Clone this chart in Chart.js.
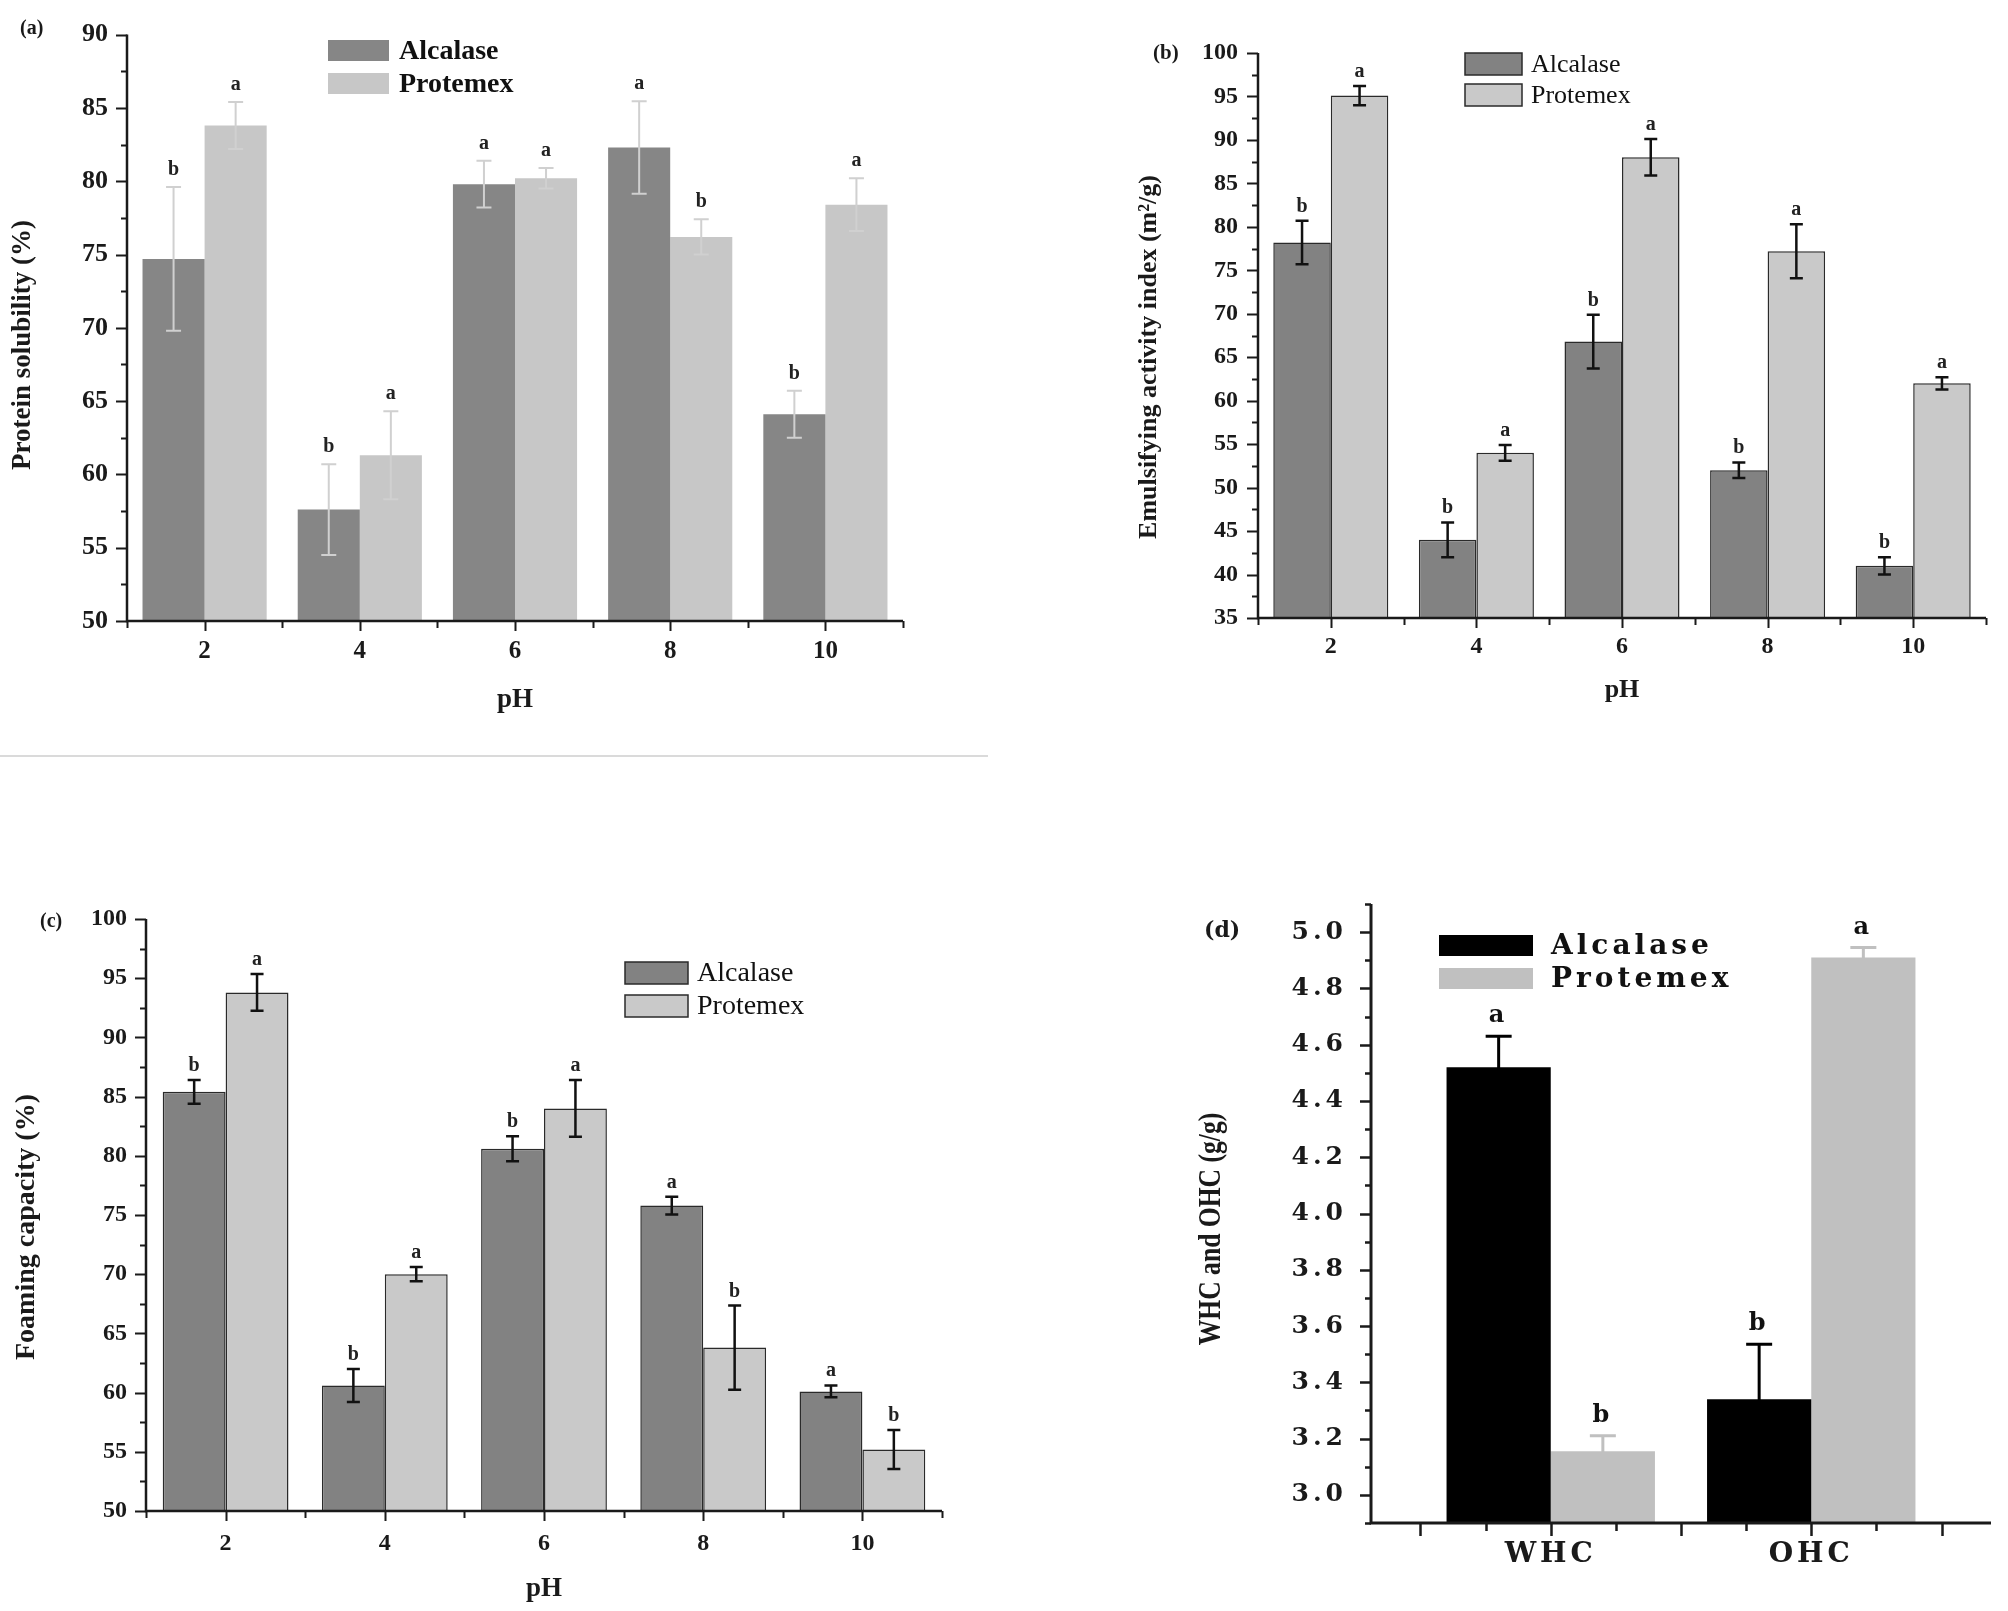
<!DOCTYPE html>
<html>
<head>
<meta charset="utf-8">
<title>Hydrolysate functional properties</title>
<script src="https://cdn.jsdelivr.net/npm/chart.js@4.4.0/dist/chart.umd.min.js"></script>
<style>
  html, body { margin: 0; padding: 0; background: #fff; overflow: hidden; }
  #page { position: relative; width: 2008px; height: 1611px; overflow: hidden; }
  #page canvas { position: absolute; left: 0; top: 0; }
  .tag { position: absolute; line-height: 1; font-family: "Liberation Serif", serif; font-weight: bold; color: #1a1a1a; }
  #rule { position: absolute; left: 0; top: 755px; width: 988px; height: 2px; background: #dadada; }
</style>
</head>
<body>
<div id="page">
  <div id="rule"></div>
  <canvas id="chart-a" width="2008" height="1611"></canvas>
  <canvas id="chart-b" width="2008" height="1611"></canvas>
  <canvas id="chart-c" width="2008" height="1611"></canvas>
  <canvas id="chart-d" width="2008" height="1611"></canvas>
  <div class="tag" style="left:20px;top:17px;font-size:20px">(a)</div>
  <div class="tag" style="left:1153px;top:42px;font-size:21px">(b)</div>
  <div class="tag" style="left:40px;top:910px;font-size:20px">(c)</div>
  <div class="tag" style="left:1204px;top:918px;font-size:22px;font-family:'DejaVu Serif',serif">(d)</div>
</div>
<script>
/***** Data *****/
const phLabels = ["2", "4", "6", "8", "10"];

// (a) Protein solubility (%)
const solAlcalase = [74.7, 57.6, 79.8, 82.3, 64.1];
const solAlcalaseErr = [4.9, 3.1, 1.6, 3.15, 1.6];
const solAlcalaseSig = ["b", "b", "a", "a", "b"];
const solProtemex = [83.8, 61.3, 80.2, 76.2, 78.4];
const solProtemexErr = [1.6, 3.0, 0.7, 1.2, 1.8];
const solProtemexSig = ["a", "a", "a", "b", "a"];
const solTicks = [50, 55, 60, 65, 70, 75, 80, 85, 90];

// (b) Emulsifying activity index (m2/g)
const eaiAlcalase = [78.2, 44.0, 66.8, 52.0, 41.0];
const eaiAlcalaseErr = [2.5, 2.0, 3.1, 0.9, 1.0];
const eaiAlcalaseSig = ["b", "b", "b", "b", "b"];
const eaiProtemex = [95.1, 54.0, 88.0, 77.2, 62.0];
const eaiProtemexErr = [1.1, 0.9, 2.1, 3.1, 0.7];
const eaiProtemexSig = ["a", "a", "a", "a", "a"];
const eaiTicks = [35, 40, 45, 50, 55, 60, 65, 70, 75, 80, 85, 90, 95, 100];

// (c) Foaming capacity (%)
const fcAlcalase = [85.4, 60.6, 80.6, 75.8, 60.1];
const fcAlcalaseErr = [1.0, 1.4, 1.05, 0.75, 0.5];
const fcAlcalaseSig = ["b", "b", "b", "a", "a"];
const fcProtemex = [93.8, 70.0, 84.0, 63.8, 55.2];
const fcProtemexErr = [1.55, 0.6, 2.4, 3.55, 1.65];
const fcProtemexSig = ["a", "a", "a", "b", "b"];
const fcTicks = [50, 55, 60, 65, 70, 75, 80, 85, 90, 95, 100];

// (d) WHC and OHC (g/g)
const capLabels = ["WHC", "OHC"];
const capPositions = [1, 2];
const capAlcalase = [4.52, 3.34];
const capAlcalaseErr = [0.11, 0.195];
const capAlcalaseSig = ["a", "b"];
const capProtemex = [3.155, 4.91];
const capProtemexErr = [0.055, 0.035];
const capProtemexSig = ["b", "a"];
const capTicks = [3.0, 3.2, 3.4, 3.6, 3.8, 4.0, 4.2, 4.4, 4.6, 4.8, 5.0];

/***** Plugins *****/
// Error bars plus the significance letter above each bar
const errorBars = {
  id: "errorBars",
  afterDatasetsDraw(chart, args, opts) {
    const { ctx, scales: { y } } = chart;
    ctx.save();
    chart.data.datasets.forEach((ds, di) => {
      const meta = chart.getDatasetMeta(di);
      meta.data.forEach((bar, i) => {
        const raw = ds.data[i];
        const v = typeof raw === "object" ? raw.y : raw;
        const e = ds.errors[i];
        const top = y.getPixelForValue(v + e);
        const bot = y.getPixelForValue(v - e);
        const half = opts.cap / 2;
        ctx.strokeStyle = ds.errorColor;
        ctx.lineWidth = opts.width;
        ctx.beginPath();
        ctx.moveTo(bar.x, top);
        ctx.lineTo(bar.x, bot);
        ctx.moveTo(bar.x - half, top);
        ctx.lineTo(bar.x + half, top);
        ctx.moveTo(bar.x - half, bot);
        ctx.lineTo(bar.x + half, bot);
        ctx.stroke();
        ctx.fillStyle = opts.letterColor;
        ctx.font = opts.letterFont;
        ctx.textAlign = "center";
        ctx.textBaseline = "alphabetic";
        ctx.fillText(ds.letters[i], bar.x, top - opts.letterGap);
      });
    });
    ctx.restore();
  },
};

// Legend drawn as boxes next to the names, at a fixed place
const boxLegend = {
  id: "boxLegend",
  afterDatasetsDraw(chart, args, opts) {
    const { ctx } = chart;
    ctx.save();
    chart.data.datasets.forEach((ds, i) => {
      const top = opts.y + i * opts.rowGap;
      ctx.fillStyle = ds.backgroundColor;
      ctx.fillRect(opts.x, top, opts.boxW, opts.boxH);
      if (ds.borderWidth) {
        ctx.lineWidth = ds.borderWidth;
        ctx.strokeStyle = ds.borderColor;
        ctx.strokeRect(opts.x, top, opts.boxW, opts.boxH);
      }
      ctx.fillStyle = opts.color;
      ctx.font = opts.font;
      ctx.textAlign = "left";
      ctx.textBaseline = "middle";
      ctx.fillText(ds.label, opts.textX, top + opts.boxH / 2 + 1);
    });
    ctx.restore();
  },
};

// Origin-style axes: left and bottom spines, outward major and minor ticks
const originAxes = {
  id: "originAxes",
  afterDraw(chart, args, opts) {
    const { ctx, chartArea: a, scales: { x, y } } = chart;
    ctx.save();
    ctx.strokeStyle = opts.color;
    ctx.lineWidth = opts.tickWidth;
    ctx.beginPath();
    const majors = y.ticks.map((t) => t.value);
    const n = Math.round((y.max - y.min) / opts.yStep);
    for (let i = 0; i <= n; i++) {
      const v = y.min + i * opts.yStep;
      const isMajor = majors.some((m) => Math.abs(m - v) < 1e-6);
      const py = Math.round(y.getPixelForValue(v)) + 0.5;
      ctx.moveTo(a.left, py);
      ctx.lineTo(a.left - (isMajor ? opts.yMajorLen : opts.yMinorLen), py);
    }
    opts.xMajor.forEach((v) => {
      const px = Math.round(x.getPixelForValue(v)) + 0.5;
      ctx.moveTo(px, a.bottom);
      ctx.lineTo(px, a.bottom + opts.xMajorLen);
    });
    opts.xMinor.forEach((v) => {
      const px = Math.round(x.getPixelForValue(v)) + 0.5;
      ctx.moveTo(px, a.bottom);
      ctx.lineTo(px, a.bottom + opts.xMinorLen);
    });
    ctx.stroke();
    ctx.lineWidth = opts.axisWidth;
    ctx.beginPath();
    ctx.moveTo(a.left, a.top);
    ctx.lineTo(a.left, a.bottom);
    ctx.lineTo(a.right, a.bottom);
    ctx.stroke();
    ctx.restore();
  },
};

// Rotated y-axis title at a fixed centre, optionally squeezed along its length
const sideTitle = {
  id: "sideTitle",
  afterDraw(chart, args, opts) {
    const { ctx } = chart;
    ctx.save();
    ctx.letterSpacing = "0px";
    ctx.translate(opts.x, opts.y);
    ctx.rotate(-Math.PI / 2);
    ctx.scale(opts.squeeze, 1);
    ctx.font = opts.font;
    ctx.fillStyle = "#1a1a1a";
    ctx.textAlign = "center";
    ctx.textBaseline = "middle";
    ctx.fillText(opts.text, 0, 0);
    ctx.restore();
  },
};

// Panel (d): wide lettering for ticks, legend and letters
const wideText = {
  id: "wideText",
  beforeDraw(chart, args, opts) {
    chart.ctx.letterSpacing = opts.spacing;
  },
  afterDraw(chart) {
    chart.ctx.letterSpacing = "0px";
  },
};

/***** Chart builders *****/
const serif = (size, weight) => ({ family: "Liberation Serif", size: size, weight: weight });
const ink = "#1a1a1a";

// Builds one of the three pH panels
const phChart = (canvasId, p) =>
  new Chart(document.getElementById(canvasId), {
    type: "bar",
    data: {
      labels: phLabels,
      datasets: [
        {
          label: "Alcalase",
          data: p.alcalase,
          errors: p.alcalaseErr,
          letters: p.alcalaseSig,
          backgroundColor: p.colors[0],
          borderColor: p.edge,
          borderWidth: p.edgeWidth,
          errorColor: p.errColor,
          categoryPercentage: p.groupWidth,
          barPercentage: 1.0,
        },
        {
          label: "Protemex",
          data: p.protemex,
          errors: p.protemexErr,
          letters: p.protemexSig,
          backgroundColor: p.colors[1],
          borderColor: p.edge,
          borderWidth: p.edgeWidth,
          errorColor: p.errColor,
          categoryPercentage: p.groupWidth,
          barPercentage: 1.0,
        },
      ],
    },
    options: {
      animation: false,
      responsive: false,
      devicePixelRatio: 1,
      layout: { padding: p.padding },
      plugins: {
        legend: { display: false },
        tooltip: { enabled: false },
        errorBars: p.errorBars,
        boxLegend: p.legend,
        sideTitle: p.yTitle,
        originAxes: {
          color: ink,
          tickWidth: 2,
          axisWidth: 2.5,
          yStep: 2.5,
          yMajorLen: 11,
          yMinorLen: 6,
          xMajor: [0, 1, 2, 3, 4],
          xMinor: [-0.5, 0.5, 1.5, 2.5, 3.5, 4.5],
          xMajorLen: 10,
          xMinorLen: 7,
        },
      },
      scales: {
        x: {
          grid: { display: false, drawTicks: false },
          border: { display: false },
          ticks: { padding: p.xTickPad, font: serif(p.xTickSize, "bold"), color: ink, maxRotation: 0, autoSkip: false },
          title: { display: true, text: "pH", font: serif(p.xTitleSize, "bold"), color: ink, padding: 0 },
          afterFit: (scale) => { scale.height = p.xHeight; },
        },
        y: {
          min: p.ticks[0],
          max: p.ticks[p.ticks.length - 1],
          grid: { display: false, drawTicks: false },
          border: { display: false },
          afterBuildTicks: (scale) => { scale.ticks = p.ticks.map((v) => ({ value: v })); },
          ticks: { padding: p.yTickPad, font: serif(p.yTickSize, "bold"), color: ink },
          afterFit: (scale) => { scale.width = p.yWidth; },
        },
      },
    },
    plugins: [errorBars, boxLegend, originAxes, sideTitle],
  });

/***** Panels *****/
// (a) Protein solubility
phChart("chart-a", {
  alcalase: solAlcalase, alcalaseErr: solAlcalaseErr, alcalaseSig: solAlcalaseSig,
  protemex: solProtemex, protemexErr: solProtemexErr, protemexSig: solProtemexSig,
  ticks: solTicks, groupWidth: 0.8,
  colors: ["#868686", "#c7c7c7"], edge: "#c7c7c7", edgeWidth: 0, errColor: "#d0d0d0",
  padding: { left: 0, top: 30, right: 1105, bottom: 895 },
  yWidth: 127, xHeight: 95,
  xTickPad: 16, xTickSize: 25, xTitleSize: 27,
  yTickPad: 19, yTickSize: 26,
  yTitle: { text: "Protein solubility (%)", x: 23, y: 345, font: "bold 27px 'Liberation Serif'", squeeze: 1 },
  errorBars: { width: 2, cap: 15, letterGap: 12, letterFont: "bold 20px 'Liberation Serif'", letterColor: "#222" },
  legend: { x: 328, y: 40, boxW: 61, boxH: 21, rowGap: 33, textX: 399, font: "bold 28px 'Liberation Serif'", color: "#111" },
});

// (b) Emulsifying activity index
phChart("chart-b", {
  alcalase: eaiAlcalase, alcalaseErr: eaiAlcalaseErr, alcalaseSig: eaiAlcalaseSig,
  protemex: eaiProtemex, protemexErr: eaiProtemexErr, protemexSig: eaiProtemexSig,
  ticks: eaiTicks, groupWidth: 0.79,
  colors: ["#828282", "#c9c9c9"], edge: "#2a2a2a", edgeWidth: 1.5, errColor: "#111",
  padding: { left: 0, top: 53, right: 22, bottom: 905 },
  yWidth: 1258, xHeight: 88,
  xTickPad: 14, xTickSize: 24, xTitleSize: 26,
  yTickPad: 20, yTickSize: 24,
  yTitle: { text: "Emulsifying activity index (m²/g)", x: 1149, y: 357, font: "bold 26px 'Liberation Serif'", squeeze: 1 },
  errorBars: { width: 2.5, cap: 13, letterGap: 9, letterFont: "bold 20px 'Liberation Serif'", letterColor: "#222" },
  legend: { x: 1465, y: 53, boxW: 57, boxH: 22, rowGap: 31, textX: 1531, font: "26px 'Liberation Serif'", color: "#111" },
});

// (c) Foaming capacity
phChart("chart-c", {
  alcalase: fcAlcalase, alcalaseErr: fcAlcalaseErr, alcalaseSig: fcAlcalaseSig,
  protemex: fcProtemex, protemexErr: fcProtemexErr, protemexSig: fcProtemexSig,
  ticks: fcTicks, groupWidth: 0.79,
  colors: ["#828282", "#c9c9c9"], edge: "#2a2a2a", edgeWidth: 1.5, errColor: "#111",
  padding: { left: 0, top: 919, right: 1066, bottom: 6 },
  yWidth: 146, xHeight: 94,
  xTickPad: 18, xTickSize: 24, xTitleSize: 27,
  yTickPad: 19, yTickSize: 24,
  yTitle: { text: "Foaming capacity (%)", x: 27, y: 1227, font: "bold 28px 'Liberation Serif'", squeeze: 1 },
  errorBars: { width: 2.5, cap: 13, letterGap: 9, letterFont: "bold 20px 'Liberation Serif'", letterColor: "#222" },
  legend: { x: 625, y: 962, boxW: 63, boxH: 22, rowGap: 33, textX: 697, font: "28px 'Liberation Serif'", color: "#111" },
});

// (d) Water and oil holding capacity
const wideFont = (size) => ({ family: "DejaVu Serif", size: size, weight: "bold" });
new Chart(document.getElementById("chart-d"), {
  type: "bar",
  data: {
    datasets: [
      {
        label: "Alcalase",
        data: capPositions.map((x, i) => ({ x: x, y: capAlcalase[i] })),
        errors: capAlcalaseErr,
        letters: capAlcalaseSig,
        backgroundColor: "#000000",
        borderWidth: 0,
        errorColor: "#000000",
        categoryPercentage: 0.8,
        barPercentage: 1.0,
      },
      {
        label: "Protemex",
        data: capPositions.map((x, i) => ({ x: x, y: capProtemex[i] })),
        errors: capProtemexErr,
        letters: capProtemexSig,
        backgroundColor: "#c0c0c0",
        borderWidth: 0,
        errorColor: "#c0c0c0",
        categoryPercentage: 0.8,
        barPercentage: 1.0,
      },
    ],
  },
  options: {
    animation: false,
    responsive: false,
    devicePixelRatio: 1,
    layout: { padding: { left: 0, top: 904, right: 17, bottom: 28 } },
    plugins: {
      legend: { display: false },
      tooltip: { enabled: false },
      errorBars: { width: 3, cap: 26, letterGap: 14, letterFont: "bold 24px 'DejaVu Serif'", letterColor: "#111" },
      boxLegend: { x: 1439, y: 935, boxW: 94, boxH: 21, rowGap: 33, textX: 1551, font: "bold 28px 'DejaVu Serif'", color: "#111" },
      originAxes: {
        color: ink,
        tickWidth: 2.5,
        axisWidth: 3,
        yStep: 0.1,
        yMajorLen: 11,
        yMinorLen: 6,
        xMajor: [0.5, 1, 1.5, 2, 2.5],
        xMinor: [0.75, 1.25, 1.75, 2.25],
        xMajorLen: 13,
        xMinorLen: 8,
      },
      wideText: { spacing: "4px" },
      sideTitle: { text: "WHC and OHC (g/g)", x: 1212, y: 1229, font: "bold 32px 'Liberation Serif'", squeeze: 0.8 },
    },
    scales: {
      x: {
        type: "linear",
        min: 0.31,
        max: 2.69,
        offset: false,
        grid: { display: false, drawTicks: false },
        border: { display: false },
        afterBuildTicks: (scale) => { scale.ticks = capPositions.map((v) => ({ value: v })); },
        ticks: {
          padding: 15,
          font: wideFont(28),
          color: ink,
          maxRotation: 0,
          autoSkip: false,
          callback: (value) => capLabels[capPositions.indexOf(value)],
        },
        afterFit: (scale) => { scale.height = 60; },
      },
      y: {
        min: 2.9,
        max: 5.1,
        grid: { display: false, drawTicks: false },
        border: { display: false },
        afterBuildTicks: (scale) => { scale.ticks = capTicks.map((v) => ({ value: v })); },
        ticks: { padding: 24, font: wideFont(25), color: ink, callback: (value) => value.toFixed(1) },
        afterFit: (scale) => { scale.width = 1371; },
      },
    },
  },
  plugins: [errorBars, boxLegend, originAxes, wideText, sideTitle],
});
</script>
</body>
</html>
